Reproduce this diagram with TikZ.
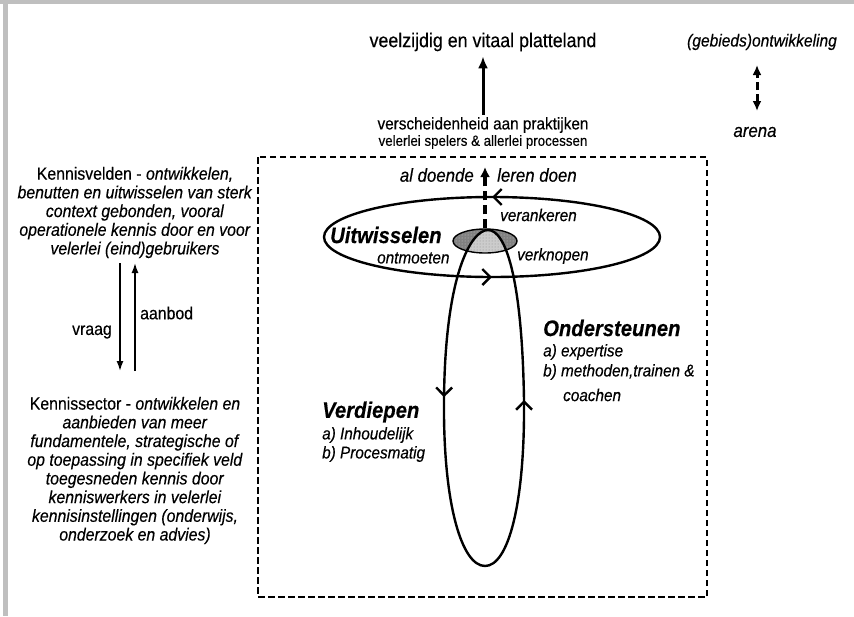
\documentclass[tikz,border=0pt]{standalone}
\usepackage{fontspec}
\setmainfont{Liberation Sans}[FakeBold=0.35,FakeStretch=0.9]
\usetikzlibrary{arrows.meta,shapes.geometric,decorations.markings,patterns}
\begin{document}
\begin{tikzpicture}[x=1pt,y=-1pt,
  txt/.style={inner sep=0pt},
  bigtxt/.style={txt, font=\fontsize{19.8}{23}\selectfont},
  midtxt/.style={txt, font=\fontsize{17}{20}\selectfont},
  smalltxt/.style={txt, font=\fontsize{14.8}{17}\selectfont},
  itbig/.style={txt, font=\fontsize{18.7}{22}\selectfont\itshape},
  lbl/.style={txt, font=\fontsize{17}{20}\selectfont\itshape},
  heading/.style={txt, font=\fontsize{22.5}{26}\selectfont\bfseries\itshape},
  block/.style={txt, align=center, font=\fontsize{17.6}{18.7}\selectfont},
  plainlbl/.style={txt, font=\fontsize{17.6}{20}\selectfont},
  thickarrow/.style={line width=3pt, -{Latex[length=12pt,width=10pt]}},
  thinarrow/.style={line width=1.6pt, -{Latex[length=10pt,width=7pt]}},
  dasharrow/.style={line width=3.2pt, dash pattern=on 9pt off 5pt, -{Latex[length=10pt,width=10pt]}},
  dashdouble/.style={line width=3pt, dash pattern=on 8pt off 4pt, {Latex[length=10pt,width=9pt]}-{Latex[length=10pt,width=9pt]}},
  boxline/.style={line width=1.6pt, dash pattern=on 6.5pt off 3.5pt},
  loopline/.style={line width=2.4pt},
  barbs/.style={postaction={decorate}, decoration={markings,
      mark=at position 0.25 with {\arrowreversed{Straight Barb[length=8pt,width=16pt]}},
      mark=at position 0.75 with {\arrowreversed{Straight Barb[length=8pt,width=16pt]}}}}
]
\useasboundingbox (0,0) rectangle (854,616);
% grey frame
\fill[black!25] (0,0) rectangle (854,4);
\fill[black!25] (3,0) rectangle (8,616);

% top texts
\node[bigtxt] (vz) at (483,42) {veelzijdig en vitaal platteland};
\node[midtxt] (vp) at (483,125) {verscheidenheid aan praktijken};
\node[smalltxt] (vs) at (483,142) {velerlei spelers \& allerlei processen};
\draw[thickarrow, shorten >=5pt, shorten <=2pt] (vp.north) -- (vz.south);

\node[txt, font=\fontsize{17.3}{20}\selectfont\itshape] (go) at (762,42) {(gebieds)ontwikkeling};
\node[itbig] (ar) at (755,132) {arena};
\coordinate (dA) at (757,111);
\coordinate (dB) at (757,65);
\draw[dashdouble] (dA) -- (dB);

% left blocks
\node[block] (kv) at (135,212.5) {Kennisvelden - \textit{ontwikkelen,}\\
\textit{benutten en uitwisselen van sterk}\\
\textit{context gebonden, vooral}\\
\textit{operationele kennis door en voor}\\
\textit{velerlei (eind)gebruikers}};
\node[block] (ks) at (135,470.5) {Kennissector - \textit{ontwikkelen en}\\
\textit{aanbieden van meer}\\
\textit{fundamentele, strategische of}\\
\textit{op toepassing in specifiek veld}\\
\textit{toegesneden kennis door}\\
\textit{kenniswerkers in velerlei}\\
\textit{kennisinstellingen (onderwijs,}\\
\textit{onderzoek en advies)}};
\coordinate (vqA) at (120,263);
\coordinate (vqB) at (120,371);
\coordinate (abA) at (135,371);
\coordinate (abB) at (135,263);
\draw[thinarrow] (vqA) -- (vqB);
\draw[thinarrow] (abA) -- (abB);
\node[plainlbl, anchor=east] (vraag) at (112,332) {vraag};
\node[plainlbl, anchor=west] (aanbod) at (140,313) {aanbod};

% dashed arena box
\draw[boxline] (258,157) rectangle (707,597);

% big exchange ellipse
\draw[loopline, barbs] (492,237) ellipse [x radius=168, y radius=40];

% small shaded ellipse with lighter core inside the loop
\fill[black!50] (485,241) ellipse [x radius=32, y radius=12];
\fill[pattern=dots, pattern color=black!20] (485,241) ellipse [x radius=32, y radius=12];
\begin{scope}
  \clip (485,241) ellipse [x radius=32, y radius=12];
  \fill[black!20] (488,230) .. controls (505,230) and (522,275) .. (524,400)
     -- (444,400) .. controls (445,275) and (471,230) .. (488,230);
  \fill[pattern=dots, pattern color=black!45] (488,230) .. controls (505,230) and (522,275) .. (524,400)
     -- (444,400) .. controls (445,275) and (471,230) .. (488,230);
\end{scope}
\node[draw, ellipse, line width=1.4pt, minimum width=64pt, minimum height=24pt, inner sep=0pt] (se) at (485,241) {};

% vertical loop
\draw[loopline, barbs] (488,230) .. controls (505,230) and (522,275) .. (524,400)
   .. controls (525,505) and (508,566) .. (485,566)
   .. controls (462,566) and (443,505) .. (444,400)
   .. controls (445,275) and (471,230) .. cycle;

% dashed arrow up from the core
\coordinate (tip) at (485,167);
\draw[dasharrow] (se.north) -- (tip);

% labels
\node[itbig, anchor=east] (ad) at (474,175) {al doende};
\node[itbig, anchor=west] (ld) at (497,175) {leren doen};
\node[lbl, anchor=west] (vk) at (500,215) {verankeren};
\node[heading, anchor=west] (uw) at (330,235) {Uitwisselen};
\node[lbl, anchor=west] (om) at (377,258) {ontmoeten};
\node[lbl, anchor=west] (vn) at (517,256) {verknopen};

\node[heading, anchor=west] (os) at (543,328) {Ondersteunen};
\node[lbl, anchor=west] (os1) at (543,352) {a) expertise};
\node[lbl, anchor=west] (os2) at (543,372) {b) methoden,trainen \&};
\node[lbl, anchor=west] (os3) at (563,395) {coachen};

\node[heading, anchor=west] (vd) at (322,412) {Verdiepen};
\node[lbl, anchor=west] (vd1) at (322,435) {a) Inhoudelijk};
\node[lbl, anchor=west] (vd2) at (322,454) {b) Procesmatig};
\end{tikzpicture}
\end{document}
